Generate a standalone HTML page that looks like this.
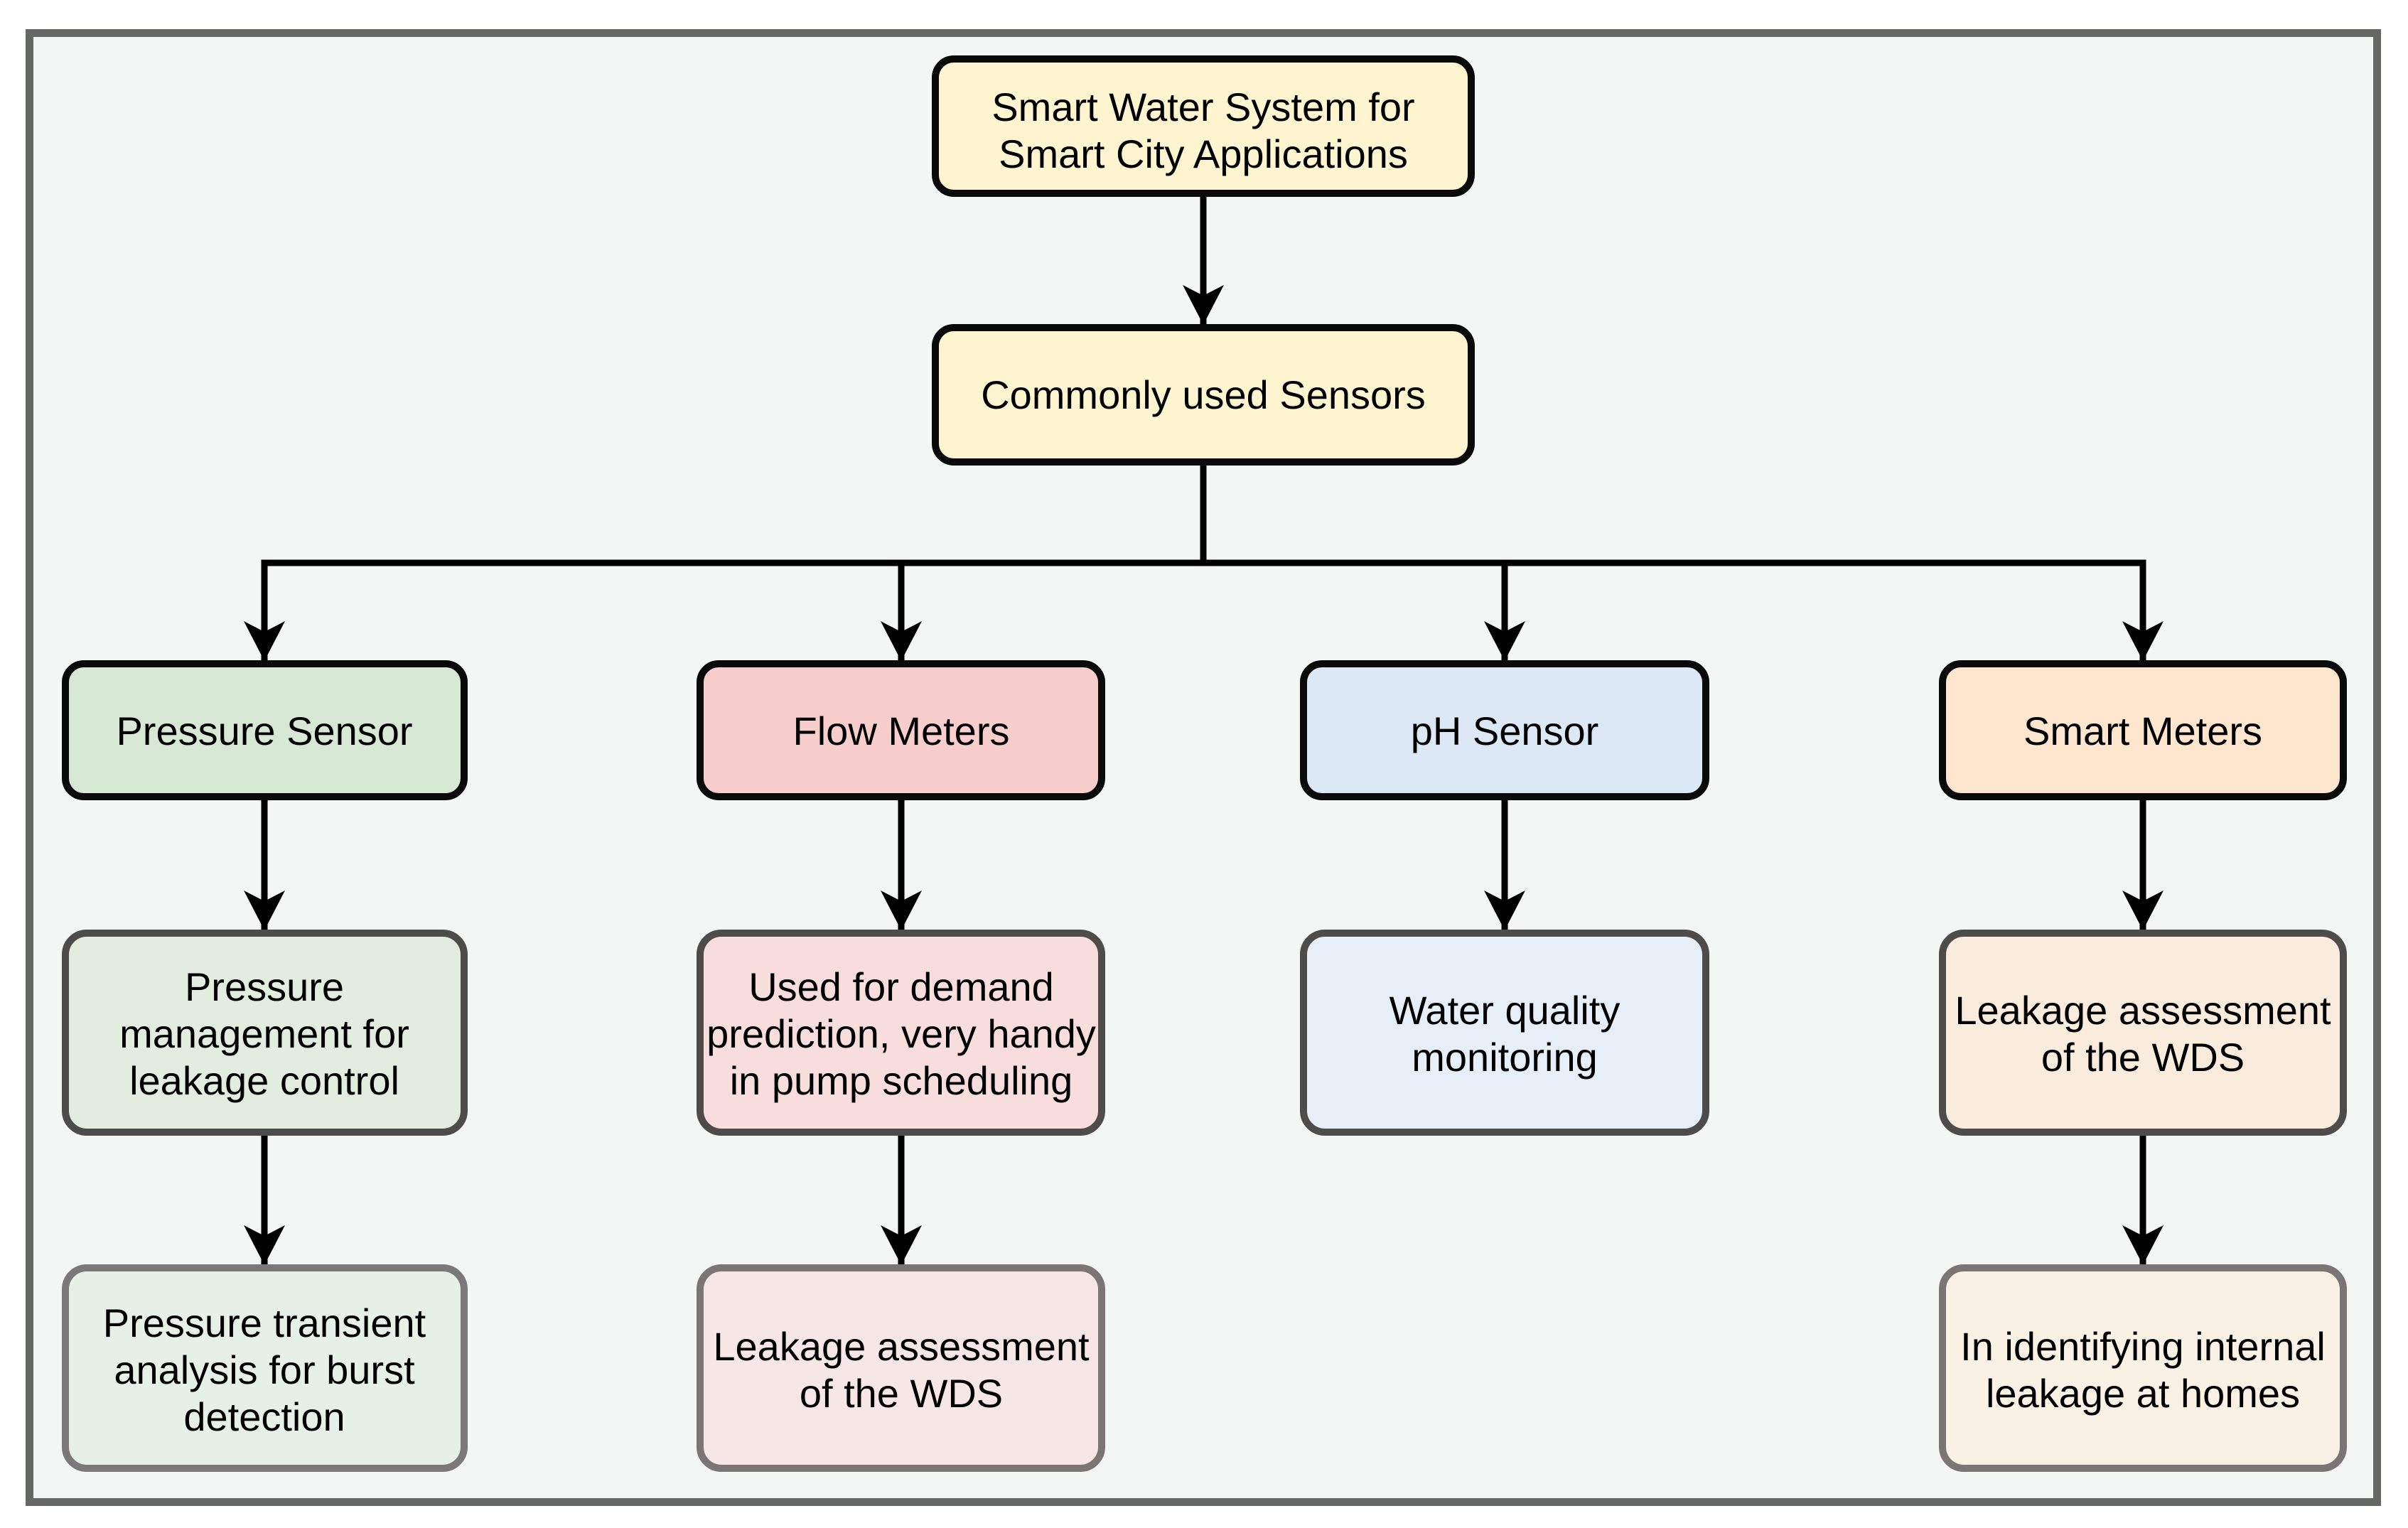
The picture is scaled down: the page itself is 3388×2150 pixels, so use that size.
<!DOCTYPE html>
<html><head><meta charset="utf-8"><style>
html,body{margin:0;padding:0;background:#fff;}
svg{display:block;}
text{font-family:"Liberation Sans",Arial,sans-serif;font-size:56px;fill:#000;text-anchor:middle;}
</style></head><body>
<svg width="3388" height="2150" viewBox="0 0 3388 2150" xmlns="http://www.w3.org/2000/svg">
<defs>
<marker id="ah" markerUnits="userSpaceOnUse" markerWidth="60" markerHeight="60" viewBox="0 0 60 60" refX="56" refY="30" orient="auto">
<path d="M0,1 L56,30 L0,59 L15,30 Z" fill="#000"/>
</marker>
</defs>
<rect x="41.5" y="46.5" width="3303" height="2067" fill="#f4f6f5" stroke="#666866" stroke-width="11"/>

<g stroke="#000" stroke-width="9" fill="none">
<line x1="1693" y1="277" x2="1693" y2="457" marker-end="url(#ah)"/>
<polyline points="1693,655 1693,792 372,792 372,930" marker-end="url(#ah)"/>
<polyline points="1693,792 1268,792 1268,930" marker-end="url(#ah)"/>
<polyline points="1693,792 2117,792 2117,930" marker-end="url(#ah)"/>
<polyline points="1693,792 3015,792 3015,930" marker-end="url(#ah)"/>
<line x1="372" y1="1126" x2="372" y2="1309" marker-end="url(#ah)"/>
<line x1="1268" y1="1126" x2="1268" y2="1309" marker-end="url(#ah)"/>
<line x1="2117" y1="1126" x2="2117" y2="1309" marker-end="url(#ah)"/>
<line x1="3015" y1="1126" x2="3015" y2="1309" marker-end="url(#ah)"/>
<line x1="372" y1="1598" x2="372" y2="1780" marker-end="url(#ah)"/>
<line x1="1268" y1="1598" x2="1268" y2="1780" marker-end="url(#ah)"/>
<line x1="3015" y1="1598" x2="3015" y2="1780" marker-end="url(#ah)"/>
</g>

<g stroke-width="10">
<rect x="1316" y="83" width="754" height="189" rx="26" fill="#fff4d0" stroke="#0a0a0a"/>
<rect x="1316" y="461" width="754" height="189" rx="26" fill="#fff4d0" stroke="#0a0a0a"/>

<rect x="92" y="934" width="561" height="187" rx="26" fill="#d7e8d5" stroke="#0a0a0a"/>
<rect x="985" y="934" width="565" height="187" rx="26" fill="#f7cecc" stroke="#0a0a0a"/>
<rect x="1834" y="934" width="566" height="187" rx="26" fill="#dce8f6" stroke="#0a0a0a"/>
<rect x="2733" y="934" width="564" height="187" rx="26" fill="#fde6cd" stroke="#0a0a0a"/>

<rect x="92" y="1313" width="561" height="280" rx="30" fill="#e2ede0" stroke="#4e4b4b"/>
<rect x="985" y="1313" width="565" height="280" rx="30" fill="#f8dddd" stroke="#4e4b4b"/>
<rect x="1834" y="1313" width="566" height="280" rx="30" fill="#e6eef7" stroke="#4e4b4b"/>
<rect x="2733" y="1313" width="564" height="280" rx="30" fill="#faecdd" stroke="#4e4b4b"/>

<rect x="92" y="1784" width="561" height="282" rx="30" fill="#e7f0e6" stroke="#7a7878"/>
<rect x="985" y="1784" width="565" height="282" rx="30" fill="#f6e6e5" stroke="#7b7575"/>
<rect x="2733" y="1784" width="564" height="282" rx="30" fill="#faf1e5" stroke="#7b7575"/>
</g>

<text x="1693" y="170">Smart Water System for</text>
<text x="1693" y="236">Smart City Applications</text>
<text x="1693" y="575">Commonly used Sensors</text>

<text x="372" y="1048">Pressure Sensor</text>
<text x="1268" y="1048">Flow Meters</text>
<text x="2117" y="1048">pH Sensor</text>
<text x="3015" y="1048">Smart Meters</text>

<text x="372" y="1408">Pressure</text>
<text x="372" y="1474">management for</text>
<text x="372" y="1540">leakage control</text>

<text x="1268" y="1408">Used for demand</text>
<text x="1268" y="1474">prediction, very handy</text>
<text x="1268" y="1540">in pump scheduling</text>

<text x="2117" y="1441">Water quality</text>
<text x="2117" y="1507">monitoring</text>

<text x="3015" y="1441">Leakage assessment</text>
<text x="3015" y="1507">of the WDS</text>

<text x="372" y="1881">Pressure transient</text>
<text x="372" y="1947">analysis for burst</text>
<text x="372" y="2013">detection</text>

<text x="1268" y="1914">Leakage assessment</text>
<text x="1268" y="1980">of the WDS</text>

<text x="3015" y="1914">In identifying internal</text>
<text x="3015" y="1980">leakage at homes</text>
</svg>
</body></html>
